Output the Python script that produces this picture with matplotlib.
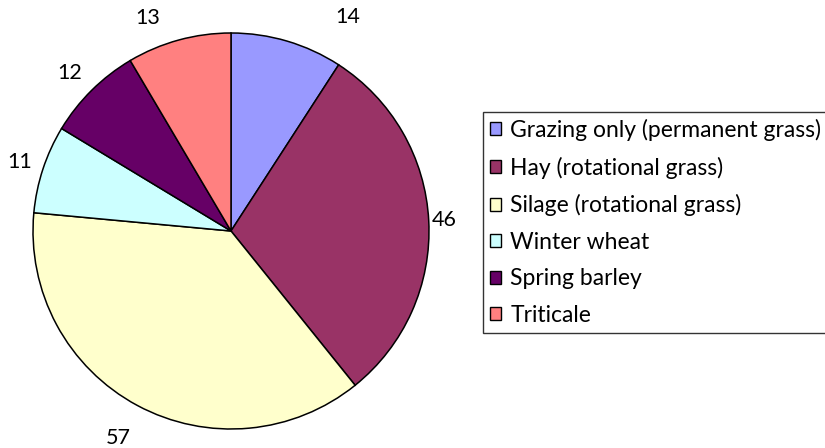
import matplotlib.pyplot as plt
from matplotlib.patches import Patch

# crop areas (share of fields)
crops = ["Grazing only (permanent grass)", "Hay (rotational grass)",
         "Silage (rotational grass)", "Winter wheat", "Spring barley",
         "Triticale"]
counts = [14, 46, 57, 11, 12, 13]
colours = ["#9999FF", "#993366", "#FFFFCC", "#CCFFFF", "#660066", "#FF8080"]

# where Excel put the value labels (pixels, from top-left)
label_xy = [(348, 17), (444, 220), (118, 438), (20, 162), (70, 73), (148, 18)]

W, H = 825, 448
plt.rcParams['font.family'] = ['Lato', 'DejaVu Sans']

fig = plt.figure(figsize=(W / 100, H / 100), dpi=100)
ax = fig.add_axes([0, 0, 1, 1])

ax.pie(counts, colors=colours, startangle=90, counterclock=False,
       center=(231, H - 231), radius=198,
       wedgeprops=dict(edgecolor="black", linewidth=1.1))
ax.set_xlim(0, W)
ax.set_ylim(0, H)
ax.set_aspect("equal")
ax.axis("off")

for val, (x, y) in zip(counts, label_xy):
    ax.text(x, H - y, str(val), ha="center", va="center", fontsize=15.5)

handles = [Patch(facecolor=c, edgecolor="black", linewidth=1.0) for c in colours]
leg = fig.legend(handles, crops, loc="upper left",
                 bbox_to_anchor=(483 / W, 1 - 112 / H), borderaxespad=0,
                 fontsize=16.5, frameon=True, fancybox=False,
                 handlelength=0.5, handleheight=0.5, handletextpad=0.4,
                 labelspacing=0.68, borderpad=0.3)
leg.get_frame().set_edgecolor("black")
leg.get_frame().set_linewidth(1.0)

fig.savefig("out.png", dpi=100)
